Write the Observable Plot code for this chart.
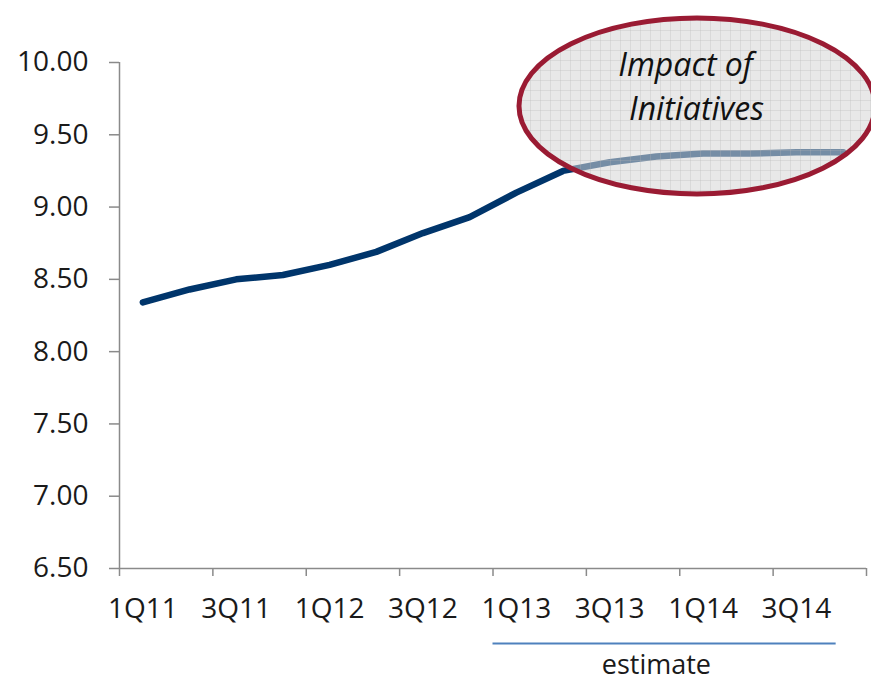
<!DOCTYPE html>
<html>
<head>
<meta charset="utf-8">
<script src="https://cdn.jsdelivr.net/npm/d3@7"></script>
<script src="https://cdn.jsdelivr.net/npm/@observablehq/plot@0.6"></script>
<style>
  html, body { margin: 0; padding: 0; background: #fff; }
</style>
</head>
<body>
<div id="chart"></div>
<script>
// ---- data ----
const quarters = ["1Q11","2Q11","3Q11","4Q11","1Q12","2Q12","3Q12","4Q12",
                  "1Q13","2Q13","3Q13","4Q13","1Q14","2Q14","3Q14","4Q14"];
const values = [8.34, 8.43, 8.50, 8.53, 8.60, 8.69, 8.82, 8.93,
                9.10, 9.25, 9.31, 9.35, 9.37, 9.37, 9.38, 9.38];
const yTicks = [6.5, 7.0, 7.5, 8.0, 8.5, 9.0, 9.5, 10.0];
const xTickLabels = ["1Q11","3Q11","1Q12","3Q12","1Q13","3Q13","1Q14","3Q14"];
const estimateLabel = "estimate";
const estimateFrom = "1Q13";
const estimateTo = 15.35;          // quarter-index where the estimate bar ends
const annotationLines = ["Impact of", "Initiatives"];
const annotationCenter = {x: 12.38, y: 9.71}; // in data coordinates

// ---- derived table ----
const data = quarters.map((q, i) => ({q, i, v: values[i]}));
const boundaryTicks = d3.range(0, quarters.length + 1, 2);
const labelPos = xTickLabels.map(l => quarters.indexOf(l) + 0.5);
const estStart = quarters.indexOf(estimateFrom);

const axisColor = "#8a8a8a";
const textColor = "#1a1a1a";

const ellipseMark = (index, scales) => {
  const cx = scales.x(annotationCenter.x);
  const cy = scales.y(annotationCenter.y);
  const ns = "http://www.w3.org/2000/svg";
  const g = document.createElementNS(ns, "g");
  g.innerHTML = `
    <defs>
      <pattern id="gridpat" width="10" height="10" patternUnits="userSpaceOnUse">
        <rect width="10" height="10" fill="#d4d4d4" fill-opacity="0.55"></rect>
        <path d="M10 0 L0 0 0 10" fill="none" stroke="#b4b4b4" stroke-width="0.8" stroke-opacity="0.7"></path>
      </pattern>
    </defs>
    <ellipse cx="${cx}" cy="${cy + 2}" rx="178" ry="88" fill="url(#gridpat)" stroke="#9a1b33" stroke-width="5"></ellipse>`;
  return g;
};

const chart = Plot.plot({
  width: 871,
  height: 681,
  marginTop: 62,
  marginBottom: 113,
  marginLeft: 119,
  marginRight: 5,
  style: {fontFamily: "'Open Sans', sans-serif", fontSize: "28px", color: textColor, background: "#fff", overflow: "visible"},
  x: {type: "linear", domain: [0, quarters.length]},
  y: {domain: [6.5, 10]},
  marks: [
    Plot.axisY({ticks: yTicks, tickFormat: d => d.toFixed(2), tickSize: 10, tickPadding: 21,
                fontSize: 28, stroke: axisColor, fill: textColor, strokeWidth: 1.5, label: null}),
    Plot.axisX({ticks: boundaryTicks, tickFormat: () => "", tickSize: 8, stroke: axisColor, strokeWidth: 1.5, label: null}),
    Plot.axisX({ticks: labelPos, tickFormat: d => quarters[Math.round(d - 0.5)], tickSize: 0, tickPadding: 30,
                fontSize: 28, fill: textColor, label: null}),
    Plot.ruleX([0], {stroke: axisColor, strokeWidth: 1.5}),
    Plot.ruleY([6.5], {stroke: axisColor, strokeWidth: 1.5}),
    Plot.line(data, {x: d => d.i + 0.5, y: "v", stroke: "#00356b", strokeWidth: 6.5,
                     strokeLinejoin: "round", strokeLinecap: "round"}),
    ellipseMark,
    Plot.text([annotationLines[0]], {x: () => annotationCenter.x, y: () => annotationCenter.y,
               text: d => d, dx: -12, dy: -39, fontSize: 32, fontStyle: "italic", fill: "#111"}),
    Plot.text([annotationLines[1]], {x: () => annotationCenter.x, y: () => annotationCenter.y,
               text: d => d, dx: -1, dy: 5, fontSize: 32, fontStyle: "italic", fill: "#111"}),
    Plot.ruleY([6.5], {x1: estStart, x2: estimateTo, dy: 75, stroke: "#4f81bd", strokeWidth: 2}),
    Plot.text([estimateLabel], {x: () => estStart + (quarters.length - 1 - estStart) / 2, y: () => 6.5,
               text: d => d, dy: 97, fontSize: 27, fill: textColor})
  ]
});
document.getElementById("chart").appendChild(chart);
</script>
</body>
</html>
